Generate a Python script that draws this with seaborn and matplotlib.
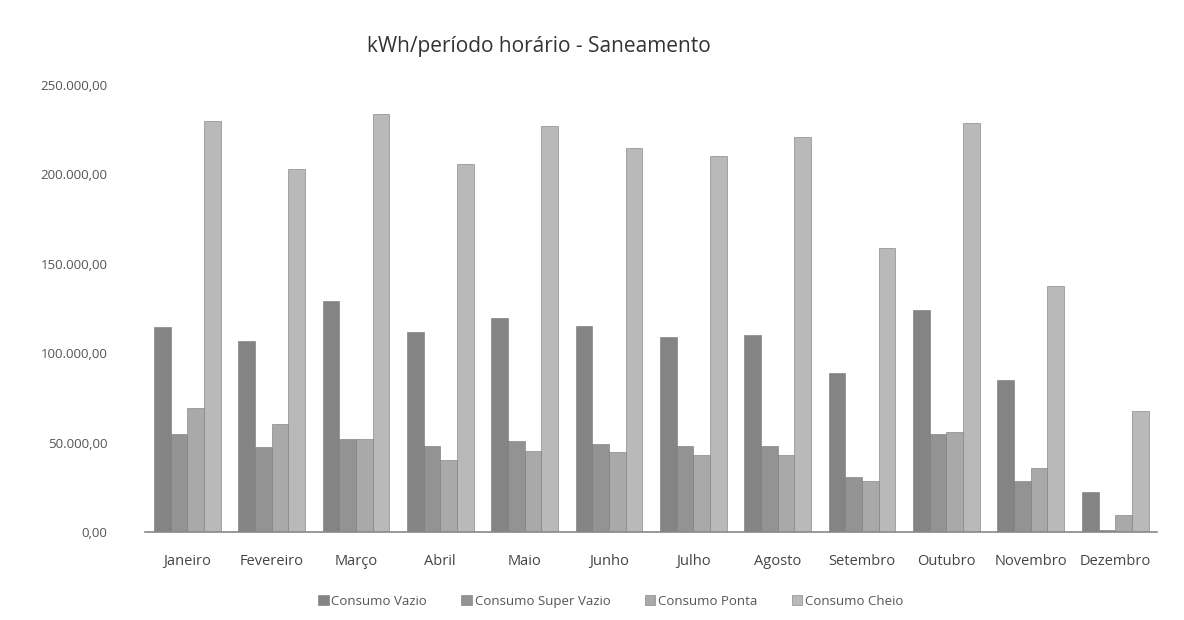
import matplotlib.pyplot as plt
import seaborn as sns
import pandas as pd
from matplotlib.ticker import FuncFormatter

# kWh per tariff period
meses = ["Janeiro", "Fevereiro", "Março", "Abril", "Maio", "Junho",
         "Julho", "Agosto", "Setembro", "Outubro", "Novembro", "Dezembro"]
consumo_vazio = [114500, 107000, 129000, 111700, 119500, 115000,
                 109000, 110000, 88800, 124000, 85000, 22300]
consumo_super_vazio = [54700, 47500, 52000, 48000, 50800, 49000,
                       48000, 48000, 30700, 54700, 28500, 1000]
consumo_ponta = [69300, 60300, 52000, 40000, 45000, 44600,
                 43000, 43000, 28500, 55900, 35800, 9500]
consumo_cheio = [229600, 203000, 234000, 206000, 226800, 214500,
                 210000, 221000, 159000, 228500, 137400, 67600]
series = ["Consumo Vazio", "Consumo Super Vazio", "Consumo Ponta", "Consumo Cheio"]
cores = ["#848484", "#939393", "#a9a9a9", "#b9b9b9"]


def fmt_pt(v, pos):
    # 250000 -> 250.000,00
    s = f"{v:,.2f}"
    return s.replace(",", "X").replace(".", ",").replace("X", ".")


df = pd.DataFrame({
    "mes": meses * 4,
    "serie": sum([[s] * len(meses) for s in series], []),
    "kwh": consumo_vazio + consumo_super_vazio + consumo_ponta + consumo_cheio,
})

sns.set_theme(style="white")
plt.rcParams['font.family'] = ['Open Sans', 'DejaVu Sans']

fig = plt.figure(figsize=(11.84, 6.2), dpi=100)
ax = fig.add_axes([0.1225, 0.142, 0.855, 0.721])

sns.barplot(data=df, x="mes", y="kwh", hue="serie", hue_order=series,
            palette=cores, width=0.79, gap=0.0, saturation=1,
            edgecolor="#777777", linewidth=0.4, ax=ax)

ax.set_ylim(0, 250000)
ax.set_xlim(-0.5, 11.5)
ax.set_yticks(range(0, 250001, 50000))
ax.yaxis.set_major_formatter(FuncFormatter(fmt_pt))
ax.tick_params(axis='y', length=0, pad=27, labelsize=9.5, labelcolor="#555555")
ax.tick_params(axis='x', length=0, pad=16, labelsize=10.5, labelcolor="#444444")
ax.set_xlabel("")
ax.set_ylabel("")
for side in ["top", "right", "left"]:
    ax.spines[side].set_visible(False)
ax.spines["bottom"].set_color("#888888")
ax.spines["bottom"].set_linewidth(1.2)

fig.text(0.455, 0.925, "kWh/período horário - Saneamento", ha="center",
         va="center", fontsize=15, color="#333333")

leg = ax.legend(loc="center", bbox_to_anchor=(0.46, -0.155), ncol=4,
                frameon=False, fontsize=9.5, handlelength=0.8,
                handleheight=0.8, handletextpad=0.2, columnspacing=2.6)
for t in leg.get_texts():
    t.set_color("#555555")

fig.savefig("out.png", dpi=100)
